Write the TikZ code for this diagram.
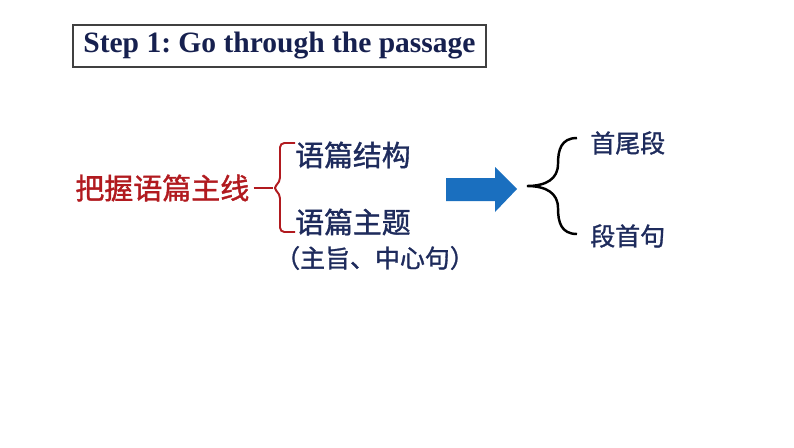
\documentclass[tikz,border=0pt]{standalone}
\usepackage{fontspec}
\setmainfont{Liberation Serif}
\newfontfamily\cjk{Noto Sans CJK SC}[FakeBold=1.3]
\usepackage[svgnames]{xcolor}
\usetikzlibrary{positioning}
\definecolor{titlenavy}{HTML}{16204F}
\definecolor{textnavy}{HTML}{1E2B5C}
\definecolor{mainred}{HTML}{B11A1F}
\definecolor{arrowblue}{HTML}{1A6FBF}
\frenchspacing

\begin{document}
\begin{tikzpicture}[x=0.02cm,y=-0.02cm,
		item/.style={font=\cjk\fontsize{16.4}{18}\selectfont,text=textnavy,inner sep=0pt,anchor=west},
		leaf/.style={font=\cjk\fontsize{14.2}{16}\selectfont,text=textnavy,inner sep=0pt,anchor=west}]
		\useasboundingbox (0,0) rectangle (794,447);
		% title box
		\node[draw=black!75,line width=0.8pt,minimum width=8.26cm,minimum height=0.84cm,
			font=\bfseries\fontsize{16.8}{19}\selectfont,text=titlenavy] (title) at (279.5,46) {Step 1: Go through the passage};
		% left part
		\node[font=\cjk\fontsize{16.5}{18}\selectfont,text=mainred,inner sep=0pt,anchor=west] (main) at (75,188) {把握语篇主线};
		\node[item] (struct) at (295,155) {语篇结构};
		\node[item] (theme) at (295,222) {语篇主题};
		\node[font=\cjk\fontsize{14.2}{16}\selectfont,text=textnavy,inner sep=0pt] (note) at (375,258) {（主旨、中心句）};
		\draw[mainred,line width=1.1pt] (main.east) ++(4,0) coordinate (m0) -- (273,188);
		\draw[mainred,line width=1.1pt,rounded corners=2.5pt] (struct.west|-0,143) -- (280,143) -- (280,182) -- (273,188)
			-- (280,194) -- (280,232) -- (theme.west|-0,232);
		% arrow
		\fill[arrowblue] (446,178) -- (495,178) -- (495,167) -- (517,189) -- (495,212) -- (495,201) -- (446,201) -- cycle;
		% right part
		\node[leaf] (head) at (590,143) {首尾段};
		\node[leaf] (first) at (590,236) {段首句};
		\coordinate (tip) at (527,186);
		\draw[line width=1.4pt] (577,138) .. controls (561,138) and (558,150) .. (558,164)
			.. controls (558,179) and (546,186) .. (tip)
			.. controls (546,186) and (558,193) .. (558,208)
			.. controls (558,222) and (561,234) .. (577,234);
\end{tikzpicture}
\end{document}
